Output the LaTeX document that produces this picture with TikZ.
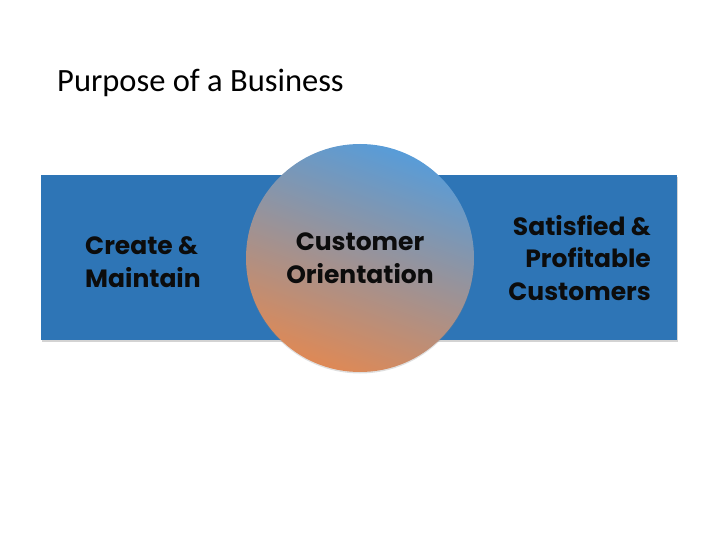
\documentclass[tikz,border=0pt]{standalone}
\usepackage{fontspec}
\setmainfont{Carlito}
\newfontfamily\gothic{Poppins}
\usetikzlibrary{shadows}
\definecolor{bandblue}{RGB}{46,117,182}
\definecolor{ctop}{RGB}{88,156,216}
\definecolor{cbot}{RGB}{222,137,86}
\definecolor{ink}{RGB}{12,12,12}
\tikzset{
  label text/.style={font=\gothic\bfseries\fontsize{25}{32.5}\selectfont, text=ink, inner sep=0pt},
}
\begin{document}
\begin{tikzpicture}[x=1pt,y=-1pt]
\useasboundingbox (0,0) rectangle (720,540);
\node[anchor=base west, inner sep=0pt, font=\fontsize{32.5}{38}\selectfont] (title) at (57,92) {Purpose of a Business};
\node[anchor=north west, inner sep=0pt, minimum width=636pt, minimum height=165pt, fill=bandblue,
  drop shadow={shadow xshift=1pt, shadow yshift=-2pt, opacity=0.35, fill=gray}] (band) at (41,175) {};
\node[circle, minimum size=228pt, inner sep=0pt, top color=ctop, bottom color=cbot, shading angle=-20,
  drop shadow={shadow xshift=0pt, shadow yshift=-1.5pt, opacity=0.25, fill=gray}] (core) at (360,258) {};
\node[label text, align=center] (coretext) at (360,258) {Customer\\Orientation};
\node[label text, align=left, anchor=west] (left) at (85,262) {Create \&\\Maintain};
\node[label text, align=right, anchor=east] (right) at (651,258) {Satisfied \&\\Profitable\\Customers};
\end{tikzpicture}
\end{document}
